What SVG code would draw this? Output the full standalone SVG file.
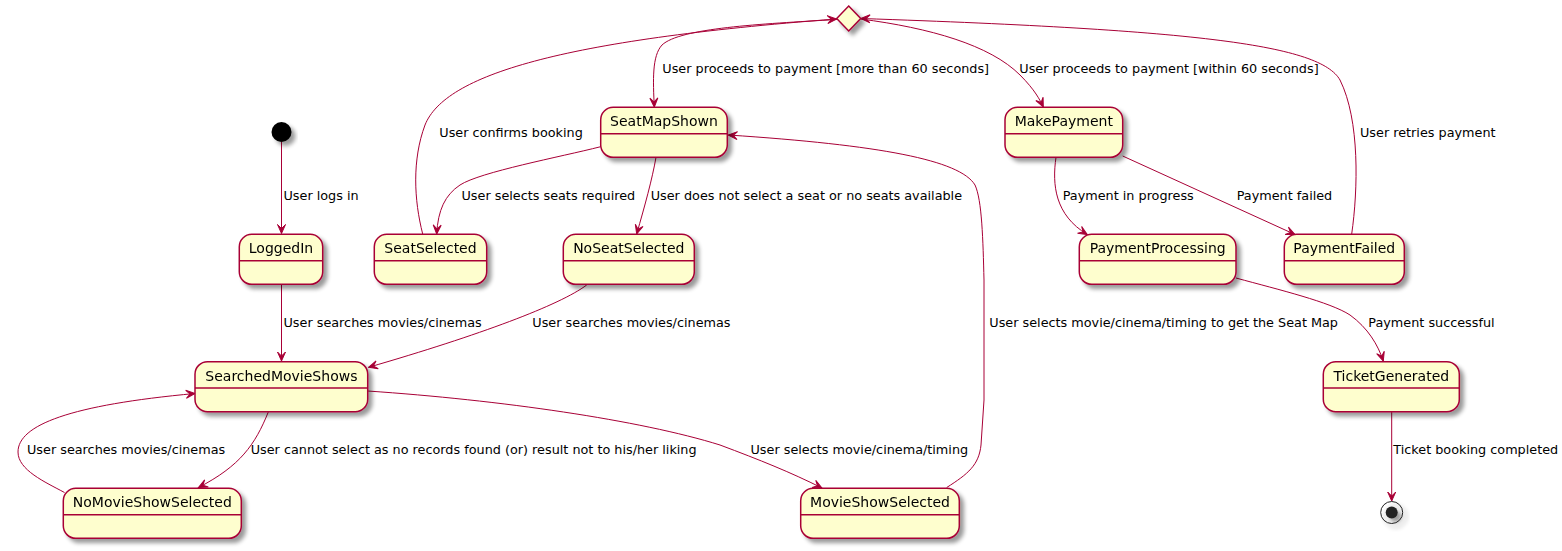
<svg xmlns="http://www.w3.org/2000/svg" width="1562" height="551" viewBox="0 0 1562 551">
<defs>
<filter id="sh" x="-20%" y="-20%" width="150%" height="160%">
<feGaussianBlur in="SourceAlpha" stdDeviation="2"/>
<feOffset dx="4" dy="4" result="b"/>
<feComponentTransfer><feFuncA type="linear" slope="0.4"/></feComponentTransfer>
<feMerge><feMergeNode/><feMergeNode in="SourceGraphic"/></feMerge>
</filter>
<marker id="ar" viewBox="-10 -5 11 10" refX="0" refY="0" markerWidth="11" markerHeight="10" markerUnits="userSpaceOnUse" orient="auto">
<path d="M0,0 L-9,-4 L-5,0 L-9,4 Z" fill="#A80036" stroke="#A80036" stroke-width="1"/>
</marker>
</defs>
<style>
.st rect{fill:#FEFECE;stroke:#A80036;stroke-width:1.5}
.st line{stroke:#A80036;stroke-width:1.5}
.nm{font-family:"DejaVu Sans",sans-serif;font-size:14px;fill:#000;text-anchor:middle}
.lb{font-family:"DejaVu Sans",sans-serif;font-size:12.8px;fill:#000}
.e{fill:none;stroke:#A80036;stroke-width:1;marker-end:url(#ar)}
</style>
<rect width="1562" height="551" fill="#FFFFFF"/>
<g id="connectors">
<path class="e" d="M281.5,142 L281.5,233.5"/>
<path class="e" d="M281.5,284.5 L281.5,361"/>
<path class="e" d="M586.7,285 C560,305 480,335 368.5,367.3"/>
<path class="e" d="M268.3,412 C255,445 240,466 198.5,487.5"/>
<path class="e" d="M64.5,492.5 C45,482 18,470 18,452 C18,425 70,405 195,393.5"/>
<path class="e" d="M367.7,391 C500,400 640,420 720,445 C760,460 790,472 822,488"/>
<path class="e" d="M946.7,487.5 C968,474 979,465 981,445 L984,400 L984,280 C983,240 982,200 975,185 C960,160 880,145 728.3,135"/>
<path class="e" d="M600.7,146.7 C560,157 480,172 460,185 C445,195 438,210 436.7,234"/>
<path class="e" d="M656,157.3 C652,180 645,205 636.7,234"/>
<path class="e" d="M422.7,234 C414,200 412,160 425,125 C445,75 560,40 836.5,19"/>
<path class="e" d="M836.7,19.5 C760,24 680,28 662,45 C652,56 653,80 654.3,107"/>
<path class="e" d="M860.7,19 C930,28 990,45 1020,75 C1035,90 1040,100 1043.3,107"/>
<path class="e" d="M1351.7,234 C1358,190 1360,120 1340,80 C1320,45 1200,30 861,18.5"/>
<path class="e" d="M1056,157.3 C1052,185 1055,215 1087.3,234.5"/>
<path class="e" d="M1122.7,156 L1295,234.5"/>
<path class="e" d="M1236,278 C1280,290 1330,302 1350,315 C1368,328 1378,345 1383.3,361"/>
<path class="e" d="M1391.7,411.7 L1391.7,501"/>
<text class="lb" x="283.5" y="200">User logs in</text>
<text class="lb" x="283.5" y="327">User searches movies/cinemas</text>
<text class="lb" x="532.3" y="327">User searches movies/cinemas</text>
<text class="lb" x="250.7" y="453.5">User cannot select as no records found (or) result not to his/her liking</text>
<text class="lb" x="27" y="453.5">User searches movies/cinemas</text>
<text class="lb" x="750.5" y="453.5">User selects movie/cinema/timing</text>
<text class="lb" x="989.3" y="327">User selects movie/cinema/timing to get the Seat Map</text>
<text class="lb" x="461.5" y="200">User selects seats required</text>
<text class="lb" x="650.7" y="200">User does not select a seat or no seats available</text>
<text class="lb" x="439.3" y="137">User confirms booking</text>
<text class="lb" x="662.3" y="73">User proceeds to payment [more than 60 seconds]</text>
<text class="lb" x="1019.3" y="73">User proceeds to payment [within 60 seconds]</text>
<text class="lb" x="1360" y="137">User retries payment</text>
<text class="lb" x="1062.7" y="200">Payment in progress</text>
<text class="lb" x="1236.7" y="200">Payment failed</text>
<text class="lb" x="1368.3" y="327">Payment successful</text>
<text class="lb" x="1393.3" y="453.5">Ticket booking completed</text>
</g>
<g id="start" filter="url(#sh)"><circle cx="281.5" cy="132" r="10" fill="#000000"/></g>
<g id="end" filter="url(#sh)"><circle cx="1391.7" cy="512.5" r="11" fill="none" stroke="#222222" stroke-width="1"/><circle cx="1391.7" cy="512.5" r="6" fill="#222222"/></g>
<g id="choice" filter="url(#sh)"><polygon points="848.7,6 860.7,18.5 848.7,31 836.7,18.5" fill="#FEFECE" stroke="#A80036" stroke-width="1.5"/></g>
<g id="LoggedIn" class="st" filter="url(#sh)"><rect x="239.3" y="234.3" width="83.4" height="50" rx="12.5"/><line x1="239.3" y1="260.7" x2="322.7" y2="260.7"/><text class="nm" x="281" y="253.3">LoggedIn</text></g>
<g id="SeatSelected" class="st" filter="url(#sh)"><rect x="374.3" y="234.3" width="112.4" height="50" rx="12.5"/><line x1="374.3" y1="260.7" x2="486.7" y2="260.7"/><text class="nm" x="430.5" y="253.3">SeatSelected</text></g>
<g id="NoSeatSelected" class="st" filter="url(#sh)"><rect x="563.3" y="234.3" width="131" height="50" rx="12.5"/><line x1="563.3" y1="260.7" x2="694.3" y2="260.7"/><text class="nm" x="628.8" y="253.3">NoSeatSelected</text></g>
<g id="SeatMapShown" class="st" filter="url(#sh)"><rect x="600.7" y="107.3" width="126.6" height="50" rx="12.5"/><line x1="600.7" y1="133.7" x2="727.3" y2="133.7"/><text class="nm" x="664" y="126.3">SeatMapShown</text></g>
<g id="MakePayment" class="st" filter="url(#sh)"><rect x="1005" y="107.3" width="117.7" height="50" rx="12.5"/><line x1="1005" y1="133.7" x2="1122.7" y2="133.7"/><text class="nm" x="1063.8" y="126.3">MakePayment</text></g>
<g id="PaymentProcessing" class="st" filter="url(#sh)"><rect x="1079.3" y="234.3" width="156.7" height="50" rx="12.5"/><line x1="1079.3" y1="260.7" x2="1236" y2="260.7"/><text class="nm" x="1157.7" y="253.3">PaymentProcessing</text></g>
<g id="PaymentFailed" class="st" filter="url(#sh)"><rect x="1284.3" y="234.3" width="120" height="50" rx="12.5"/><line x1="1284.3" y1="260.7" x2="1404.3" y2="260.7"/><text class="nm" x="1344.3" y="253.3">PaymentFailed</text></g>
<g id="SearchedMovieShows" class="st" filter="url(#sh)"><rect x="195" y="361.7" width="172.7" height="50" rx="12.5"/><line x1="195" y1="388.1" x2="367.7" y2="388.1"/><text class="nm" x="281.4" y="380.7">SearchedMovieShows</text></g>
<g id="NoMovieShowSelected" class="st" filter="url(#sh)"><rect x="63.3" y="488.3" width="178" height="50" rx="12.5"/><line x1="63.3" y1="514.7" x2="241.3" y2="514.7"/><text class="nm" x="152.3" y="507.3">NoMovieShowSelected</text></g>
<g id="MovieShowSelected" class="st" filter="url(#sh)"><rect x="800.7" y="488.3" width="158.6" height="50" rx="12.5"/><line x1="800.7" y1="514.7" x2="959.3" y2="514.7"/><text class="nm" x="880" y="507.3">MovieShowSelected</text></g>
<g id="TicketGenerated" class="st" filter="url(#sh)"><rect x="1323.3" y="361.7" width="136" height="50" rx="12.5"/><line x1="1323.3" y1="388.1" x2="1459.3" y2="388.1"/><text class="nm" x="1391.3" y="380.7">TicketGenerated</text></g>
</svg>
